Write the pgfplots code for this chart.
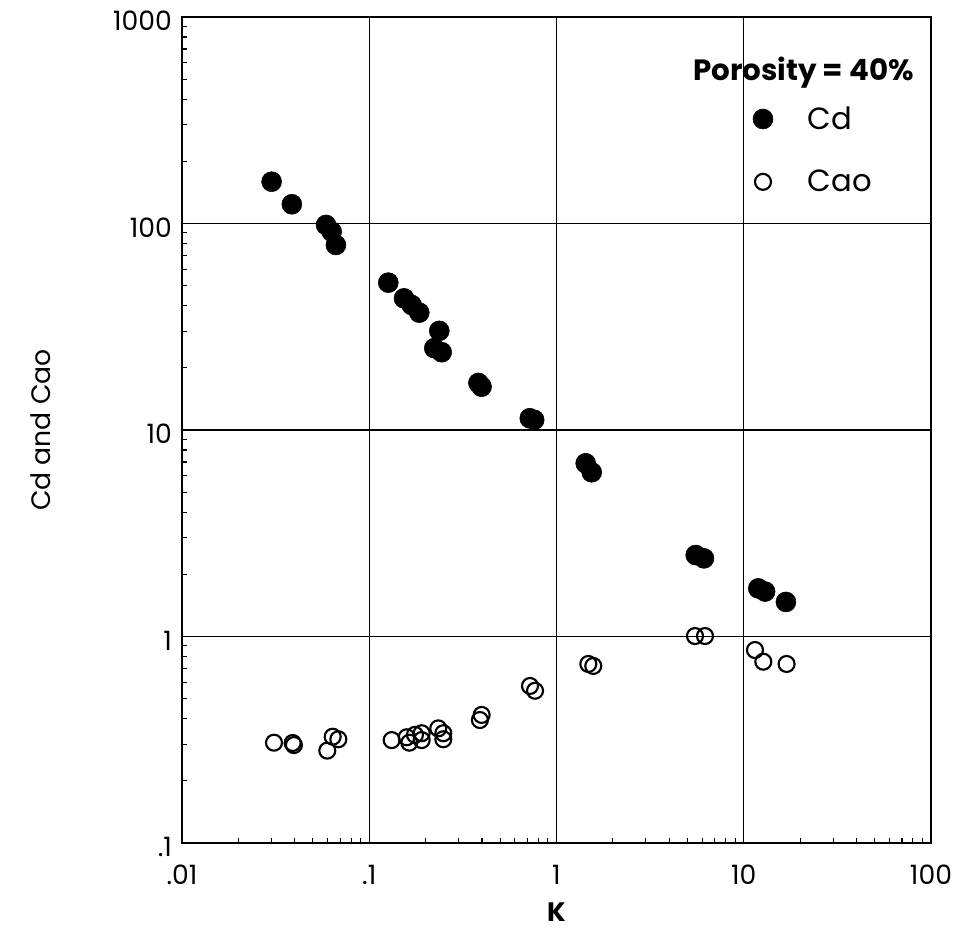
\documentclass[border=0pt]{standalone}
\usepackage{pgfplots}
\pgfplotsset{compat=1.18}
\usepackage{fontspec}
\setmainfont{Poppins}
\begin{document}
\begin{tikzpicture}
\begin{axis}[
  xmode=log, ymode=log,
  xmin=0.01, xmax=100, ymin=0.1, ymax=1000,
  scale only axis, width=561.75pt, height=619.5pt,
  xtick={0.01,0.1,1,10,100}, xticklabels={.01,.1,1,10,100},
  ytick={0.1,1,10,100,1000}, yticklabels={.1,1,10,100,1000},
  minor xtick={0.02,0.03,0.04,0.05,0.06,0.07,0.08,0.09,0.2,0.3,0.4,0.5,0.6,0.7,0.8,0.9,2,3,4,5,6,7,8,9,20,30,40,50,60,70,80,90},
  minor ytick={0.2,0.3,0.4,0.5,0.6,0.7,0.8,0.9,2,3,4,5,6,7,8,9,20,30,40,50,60,70,80,90,200,300,400,500,600,700,800,900},
  grid=major, major grid style={black, line width=1pt},
  axis line style={line width=1.8pt},
  tick pos=left, major tick length=0pt, minor tick length=4pt,
  minor tick style={black, line width=0.8pt},
  tick label style={font=\fontsize{20}{20}\selectfont},
  xticklabel style={yshift=-13pt},
  yticklabel style={xshift=-4pt, yshift=-3pt},
  /pgf/number format/assume math mode=true,
  xlabel={\bfseries K}, ylabel={Cd and Cao},
  label style={font=\fontsize{20}{20}\selectfont},
  xlabel style={yshift=-7pt},
  ylabel style={yshift=40pt},
  clip=false,
  legend style={draw=none, fill=none, at={(rel axis cs:0.762,0.895)}, anchor=north west,
    font=\fontsize{23}{23}\selectfont, row sep=25pt, inner sep=0pt,
    /tikz/every odd column/.append style={column sep=24pt}},
  legend cell align=left,
]
\addplot[only marks, mark=*, mark size=7.5pt, black] coordinates {
(0.0301,159.4) (0.0386,123.9) (0.0588,98.4) (0.0630,91.3) (0.0664,78.7)
(0.1264,51.7) (0.1534,43.4) (0.1685,40.3) (0.185,37.0) (0.2366,30.2)
(0.2225,24.9) (0.2437,23.8) (0.383,16.9) (0.398,16.2) (0.72,11.4) (0.76,11.2)
(1.432,6.90) (1.542,6.24) (5.54,2.48) (6.13,2.39) (11.96,1.71) (13.0,1.65) (16.8,1.47)
};
\addlegendentry{Cd}
\addplot[only marks, mark=o, mark size=6pt, black, mark options={line width=1.6pt, fill=white}] coordinates {
(0.0310,0.306) (0.039,0.305) (0.0396,0.298) (0.0597,0.280) (0.0638,0.327) (0.0684,0.318)
(0.1318,0.315) (0.1585,0.325) (0.1637,0.306) (0.1755,0.334) (0.1906,0.340) (0.1906,0.315)
(0.2337,0.359) (0.2486,0.340) (0.2486,0.318) (0.3984,0.417) (0.390,0.394)
(0.722,0.576) (0.768,0.546) (1.479,0.736) (1.572,0.720) (5.49,1.005) (6.21,1.005)
(11.48,0.860) (12.72,0.755) (16.94,0.736)
};
\addlegendentry{Cao}
\node[anchor=west, font=\fontsize{22}{22}\selectfont\bfseries] at (rel axis cs:0.676,0.933) {Porosity = 40\%};
\end{axis}
\path (current axis.south west) ++(-136.5pt,-67.5pt);
\path (current axis.north east) ++(27pt,12.75pt);
\end{tikzpicture}
\end{document}
